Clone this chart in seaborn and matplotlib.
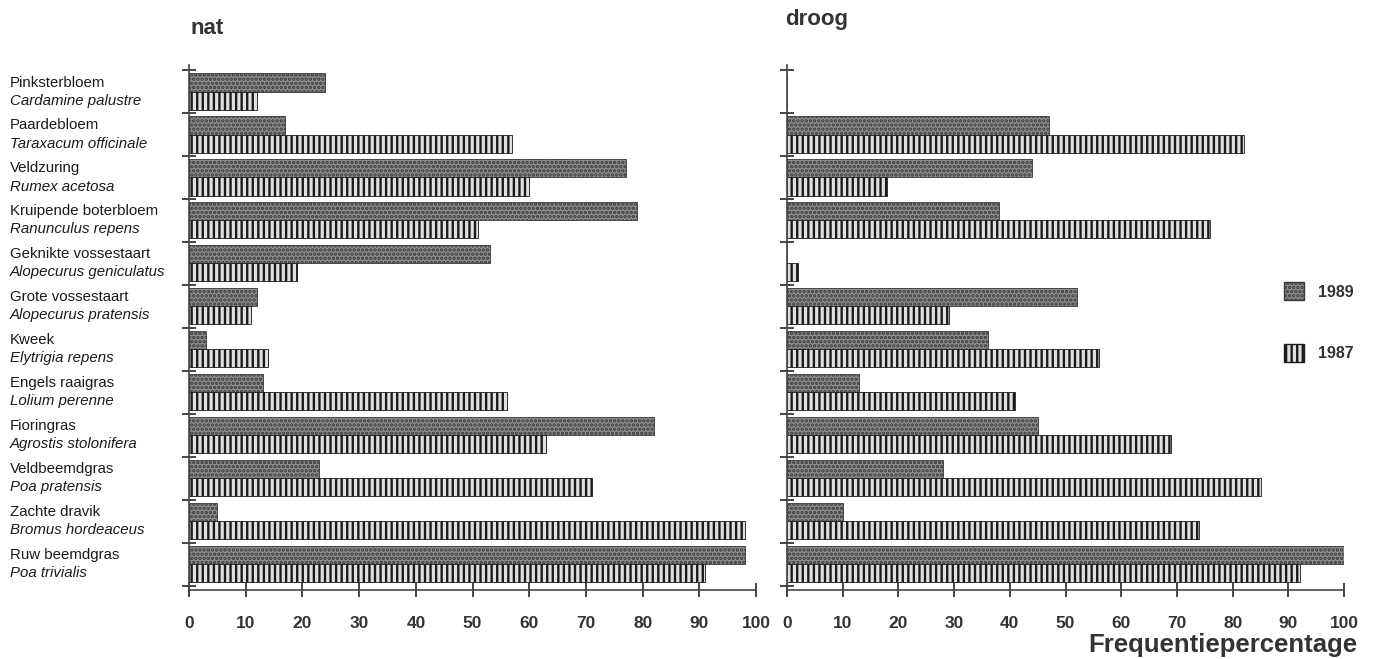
import pandas as pd
import seaborn as sns
import matplotlib.pyplot as plt
import matplotlib.transforms as mtransforms
from matplotlib.patches import Patch

# common name / latin name per species, top to bottom
common = ["Pinksterbloem", "Paardebloem", "Veldzuring", "Kruipende boterbloem",
          "Geknikte vossestaart", "Grote vossestaart", "Kweek", "Engels raaigras",
          "Fioringras", "Veldbeemdgras", "Zachte dravik", "Ruw beemdgras"]
latin = ["Cardamine palustre", "Taraxacum officinale", "Rumex acetosa", "Ranunculus repens",
         "Alopecurus geniculatus", "Alopecurus pratensis", "Elytrigia repens", "Lolium perenne",
         "Agrostis stolonifera", "Poa pratensis", "Bromus hordeaceus", "Poa trivialis"]

nat_1989 = [24, 17, 77, 79, 53, 12, 3, 13, 82, 23, 5, 98]
nat_1987 = [12, 57, 60, 51, 19, 11, 14, 56, 63, 71, 98, 91]
droog_1989 = [0, 47, 44, 38, 0, 52, 36, 13, 45, 28, 10, 100]
droog_1987 = [0, 82, 18, 76, 2, 29, 56, 41, 69, 85, 74, 92]

years = ["1989", "1987"]
xticks = [0, 10, 20, 30, 40, 50, 60, 70, 80, 90, 100]


def long_frame(v89, v87):
    rows = []
    for i, name in enumerate(common):
        rows.append({"soort": name, "jaar": "1989", "freq": v89[i]})
        rows.append({"soort": name, "jaar": "1987", "freq": v87[i]})
    return pd.DataFrame(rows)


sns.set_style("ticks")
plt.rcParams["font.family"] = ["Liberation Sans", "DejaVu Sans"]
plt.rcParams["hatch.linewidth"] = 1.7

fig = plt.figure(figsize=(13.75, 6.59), dpi=100)
ax1 = fig.add_axes([0.1375, 0.1047, 0.4124, 0.789])
ax2 = fig.add_axes([0.5724, 0.1047, 0.4051, 0.789])

style = {"1989": dict(facecolor="#8e8e8e", edgecolor="#3a3a3a", hatch="...."),
         "1987": dict(facecolor="#e0e0e0", edgecolor="#1a1a1a", hatch="|||")}

for ax, v89, v87 in [(ax1, nat_1989, nat_1987), (ax2, droog_1989, droog_1987)]:
    df = long_frame(v89, v87)
    sns.barplot(data=df, y="soort", x="freq", hue="jaar", hue_order=years,
                order=common, orient="h", width=0.84, ax=ax, legend=False,
                palette={"1989": "#8e8e8e", "1987": "#e0e0e0"})
    for cont, yr in zip(ax.containers, years):
        for p in cont:
            p.set_facecolor(style[yr]["facecolor"])
            p.set_edgecolor(style[yr]["edgecolor"])
            p.set_hatch(style[yr]["hatch"])
            p.set_linewidth(0.6)
    ax.set_xlim(0, 100)
    ax.set_ylim(11.6, -0.5)
    ax.set_yticks([i - 0.5 for i in range(13)])
    ax.set_yticklabels([])
    ax.set_xticks(xticks)
    ax.set_xticklabels([str(t) for t in xticks], fontsize=12.5, fontweight="bold", color="#333333")
    ax.tick_params(axis="x", direction="inout", length=10, width=1.2, pad=14)
    ax.tick_params(axis="y", direction="inout", length=10, width=1.2)
    ax.set_xlabel("")
    ax.set_ylabel("")
    for s in ["top", "right"]:
        ax.spines[s].set_visible(False)
    ax.spines["left"].set_bounds(11.75, -0.62)
    ax.spines["left"].set_linewidth(1.2)
    ax.spines["bottom"].set_linewidth(1.2)
    ax.spines["bottom"].set_color("#444444")
    ax.spines["left"].set_color("#444444")

# species names on the left, aligned with their bars
trans = mtransforms.blended_transform_factory(fig.transFigure, ax1.transData)
for i in range(len(common)):
    p89 = ax1.containers[0][i]
    p87 = ax1.containers[1][i]
    y89 = p89.get_y() + p89.get_height() / 2
    y87 = p87.get_y() + p87.get_height() / 2
    ax1.text(10 / 1375, y89, common[i], transform=trans, ha="left", va="center",
             fontsize=10.8, color="#1a1a1a")
    ax1.text(10 / 1375, y87, latin[i], transform=trans, ha="left", va="center",
             fontsize=10.8, style="italic", color="#1a1a1a")

fig.text(190 / 1375, 1 - 28 / 659, "nat", fontsize=16, fontweight="bold",
         color="#333333", ha="left", va="center")
fig.text(785 / 1375, 1 - 19 / 659, "droog", fontsize=16, fontweight="bold",
         color="#333333", ha="left", va="center")
fig.text(1223 / 1375, 1 - 652 / 659, "Frequentiepercentage", fontsize=18.5,
         fontweight="bold", color="#333333", ha="center", va="baseline")

handles = [Patch(label=yr, **style[yr]) for yr in years]
leg = fig.legend(handles=handles, loc="center left", bbox_to_anchor=(1270 / 1375, 1 - 322 / 659),
                 frameon=False, handlelength=1.2, handleheight=1.4, labelspacing=2.7,
                 handletextpad=0.9, prop={"size": 11.5, "weight": "bold"})
for t in leg.get_texts():
    t.set_color("#333333")

fig.savefig("out.png", dpi=100)
